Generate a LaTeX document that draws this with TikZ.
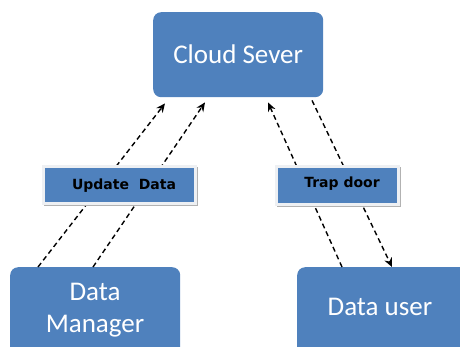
\documentclass[tikz,border=0pt]{standalone}
\usepackage{fontspec}
\setmainfont{Carlito}
\newfontfamily\labelfont{DejaVu Sans}
\usetikzlibrary{calc,arrows.meta}
\definecolor{boxblue}{HTML}{4F81BD}
\definecolor{framegray}{HTML}{EEF0F3}
\tikzset{
  x=1pt, y=-1pt,
  entity/.style={fill=boxblue, rounded corners=8pt, text=white,
    font=\fontsize{27}{32}\selectfont, align=center, inner sep=0pt, anchor=north west},
  tag/.style={fill=boxblue, draw=framegray, line width=3pt, inner sep=0pt, anchor=north west},
  tagtext/.style={text=black, font=\labelfont\bfseries\fontsize{14}{16}\selectfont},
  tagshadow/.style={fill=black!30},
  flow/.style={dashed, dash pattern=on 5pt off 3.5pt, line width=1.4pt,
    -{Stealth[length=9pt,width=8pt]}}
}
\begin{document}
\begin{tikzpicture}
\useasboundingbox (0,0) rectangle (460,346);
\clip (0,0) rectangle (460,346);

% main entities
\node[entity, minimum width=170pt, minimum height=85pt] (cloud) at (153,12) {Cloud Sever};
\node[entity, minimum width=170pt, minimum height=100pt] (dm) at (10,267) {};
\node[font=\fontsize{27}{32}\selectfont, text=white, align=center] (dmtext) at (95,310) {Data\\Manager};
\node[entity, minimum width=175pt, minimum height=100pt] (du) at (297,267) {};
\node[font=\fontsize{27}{32}\selectfont, text=white] (dutext) at (380,307) {Data user};

% anchor points for the dashed flows
\coordinate (dmA) at ($(dm.north west)+(28,0)$);
\coordinate (dmB) at ($(dm.north west)+(83,0)$);
\coordinate (cA) at ($(cloud.south west)+(12,6)$);
\coordinate (cB) at ($(cloud.south west)+(52,5)$);
\coordinate (cC) at ($(cloud.south west)+(115,5)$);
\coordinate (cD) at ($(cloud.south west)+(159,3)$);
\coordinate (duA) at ($(du.north west)+(45,0)$);
\coordinate (duB) at ($(du.north west)+(95,0)$);

\draw[flow] (dmA) -- (cA);
\draw[flow] (dmB) -- (cB);
\draw[flow] (duA) -- (cC);
\draw[flow] (cD) -- (duB);

% labels on the flows
\fill[tagshadow] (44,167) rectangle (198,206);
\node[tag, minimum width=152pt, minimum height=37pt] (upd) at (41.5,164.5) {};
\node[tagtext, anchor=base] (updtext) at (124,189) {Update\ \ Data};
\fill[tagshadow] (277,167) rectangle (401,207);
\node[tag, minimum width=122pt, minimum height=38pt] (trap) at (274.5,164.5) {};
\node[tagtext, anchor=base] (traptext) at (342,187) {Trap door};
\end{tikzpicture}
\end{document}
